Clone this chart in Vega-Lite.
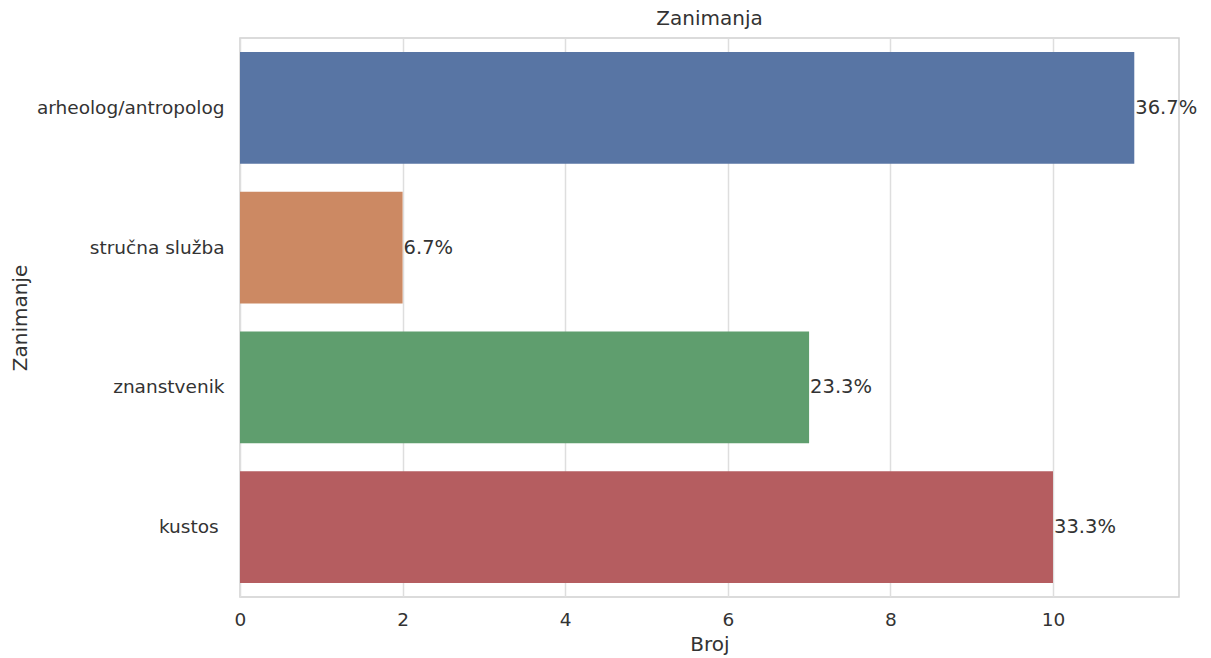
{
  "$schema": "https://vega.github.io/schema/vega-lite/v6.json",
  "width": 939,
  "height": 559,
  "autosize": {"type": "none"},
  "padding": {"left": 240, "top": 38, "right": 32, "bottom": 61},
  "background": "white",
  "config": {
    "font": "DejaVu Sans",
    "view": {"stroke": "#d0d0d0", "strokeWidth": 1.5},
    "axis": {"labelColor": "#333333", "titleColor": "#333333", "labelFont": "DejaVu Sans", "titleFont": "DejaVu Sans"}
  },
  "title": {"text": "Zanimanja", "fontSize": 20, "fontWeight": "normal", "color": "#333333", "anchor": "middle", "offset": 9, "font": "DejaVu Sans"},
  "data": {
    "values": [
      {"zanimanje": "arheolog/antropolog", "broj": 11, "postotak": "36.7%"},
      {"zanimanje": "stručna služba", "broj": 2, "postotak": "6.7%"},
      {"zanimanje": "znanstvenik", "broj": 7, "postotak": "23.3%"},
      {"zanimanje": "kustos\u00a0\u200b", "broj": 10, "postotak": "33.3%"}
    ]
  },
  "encoding": {
    "y": {
      "field": "zanimanje", "type": "nominal", "sort": null,
      "scale": {"paddingInner": 0.2, "paddingOuter": 0.1},
      "axis": {"title": "Zanimanje", "titleFontSize": 20, "titleFontWeight": "normal", "labelFontSize": 18.5, "labelLimit": 0, "ticks": false, "domain": false, "grid": false, "labelPadding": 16, "titlePadding": 10}
    }
  },
  "layer": [
    {
      "mark": {"type": "bar"},
      "encoding": {
        "x": {
          "field": "broj", "type": "quantitative",
          "scale": {"domain": [0, 11.55], "nice": false, "zero": true},
          "axis": {"title": "Broj", "titleFontSize": 20, "titleFontWeight": "normal", "labelFontSize": 18.5, "format": "d", "labelFlush": false, "values": [0, 2, 4, 6, 8, 10], "ticks": false, "domain": false, "grid": true, "gridColor": "#dedede", "gridWidth": 1.5, "labelPadding": 13, "titlePadding": 6}
        },
        "color": {
          "field": "zanimanje", "type": "nominal", "sort": null, "legend": null,
          "scale": {"range": ["#5875A4", "#CC8963", "#5F9E6E", "#B55D60"]}
        }
      }
    },
    {
      "mark": {"type": "text", "align": "left", "baseline": "middle", "dx": 1, "fontSize": 19.5, "color": "#333333", "font": "DejaVu Sans", "clip": false},
      "encoding": {
        "x": {"field": "broj", "type": "quantitative"},
        "text": {"field": "postotak"}
      }
    }
  ]
}
